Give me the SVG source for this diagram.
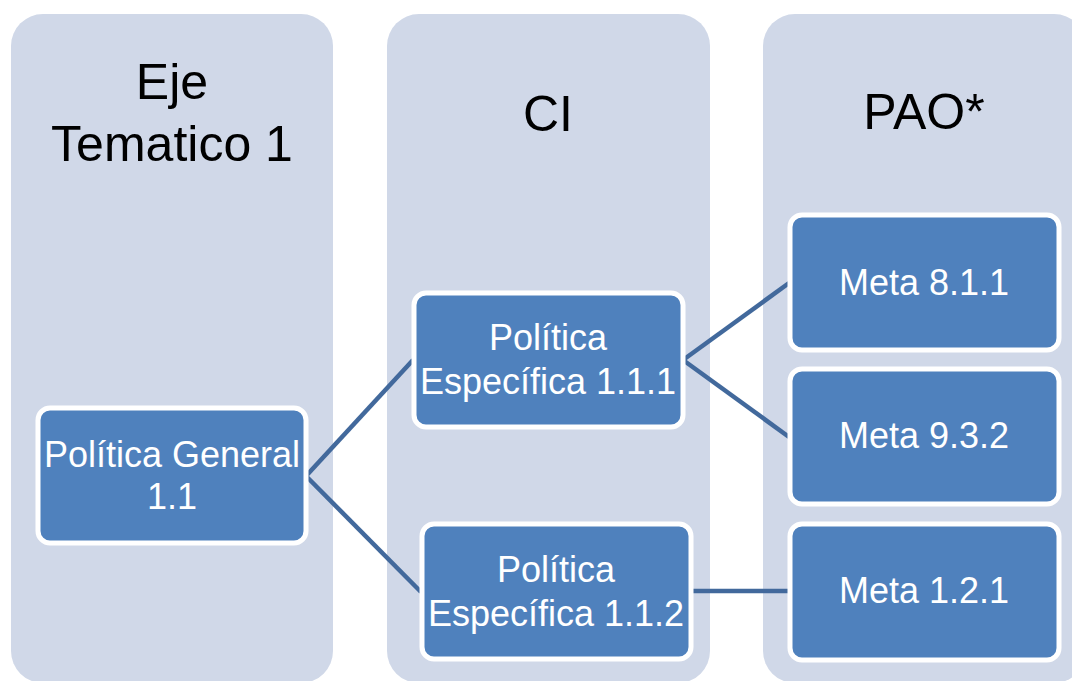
<svg xmlns="http://www.w3.org/2000/svg" width="1072" height="681" viewBox="0 0 1072 681">
<style>
.col{fill:#D0D8E8}
.ttl{font-family:"Liberation Sans",Arial,sans-serif;font-size:50px;fill:#000;text-anchor:middle}
.node{fill:#4F81BD;stroke:#FFFFFF;stroke-width:5}
.lbl{font-family:"Liberation Sans",Arial,sans-serif;font-size:36px;fill:#FFFFFF;text-anchor:middle}
.conn{stroke:#42699C;stroke-width:4.5;fill:none}
</style>
<rect width="1072" height="681" fill="#FFFFFF"/>
<g id="col-eje">
<rect class="col" x="11" y="14" width="322" height="669" rx="32"/>
<text class="ttl" x="172" y="99">Eje</text>
<text class="ttl" x="172" y="161">Tematico 1</text>
</g>
<g id="col-ci">
<rect class="col" x="387" y="14" width="323" height="669" rx="32"/>
<text class="ttl" x="548" y="131">CI</text>
</g>
<g id="col-pao">
<rect class="col" x="763" y="14" width="323" height="669" rx="32"/>
<text class="ttl" x="924" y="129">PAO*</text>
</g>
<g id="connectors">
<line class="conn" x1="306" y1="476" x2="413" y2="360"/>
<line class="conn" x1="306" y1="476" x2="421" y2="592"/>
<line class="conn" x1="683" y1="360" x2="789" y2="283"/>
<line class="conn" x1="683" y1="360" x2="789" y2="437"/>
<line class="conn" x1="691" y1="591" x2="789" y2="591"/>
</g>
<g id="n-general">
<rect class="node" x="38" y="408" width="268" height="135" rx="12"/>
<text class="lbl" x="172" y="467">Política General</text>
<text class="lbl" x="172" y="509">1.1</text>
</g>
<g id="n-esp111">
<rect class="node" x="414" y="293" width="269" height="134" rx="12"/>
<text class="lbl" x="548" y="350">Política</text>
<text class="lbl" x="548" y="394">Específica 1.1.1</text>
</g>
<g id="n-esp112">
<rect class="node" x="422" y="524" width="269" height="135" rx="12"/>
<text class="lbl" x="556" y="582">Política</text>
<text class="lbl" x="556" y="626">Específica 1.1.2</text>
</g>
<g id="n-meta811">
<rect class="node" x="790" y="215" width="269" height="135" rx="12"/>
<text class="lbl" x="924" y="295">Meta 8.1.1</text>
</g>
<g id="n-meta932">
<rect class="node" x="790" y="369" width="269" height="135" rx="12"/>
<text class="lbl" x="924" y="448">Meta 9.3.2</text>
</g>
<g id="n-meta121">
<rect class="node" x="790" y="524" width="269" height="136" rx="12"/>
<text class="lbl" x="924" y="603">Meta 1.2.1</text>
</g>
</svg>
